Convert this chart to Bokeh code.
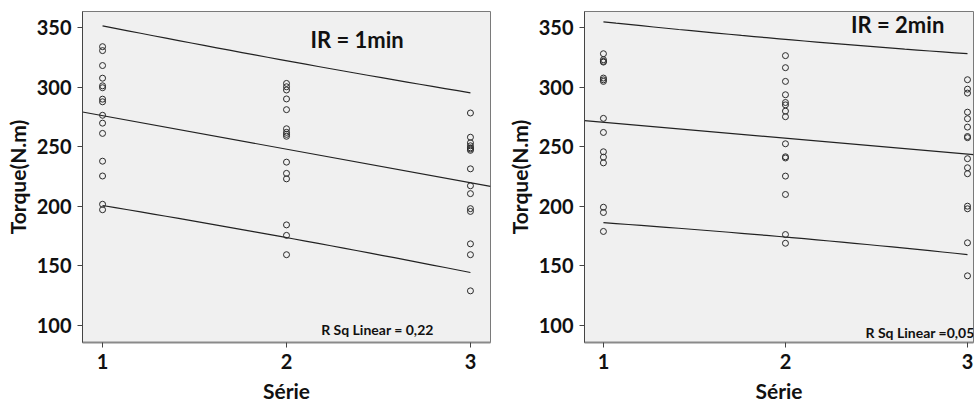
import numpy as np
from bokeh.plotting import figure
from bokeh.layouts import row
from bokeh.models import Label, FixedTicker
from bokeh.embed import file_html
from bokeh.resources import INLINE

# ---- data ----
series_ticks = [1, 2, 3]
torque_ticks = [100, 150, 200, 250, 300, 350]

ir1_s1 = [333.8, 330.5, 318.0, 307.4, 301.0, 299.4, 289.8, 287.6, 276.3, 269.7, 261.1, 237.8, 225.4, 201.7, 197.1]
ir1_s2 = [303.0, 300.2, 297.5, 290.0, 281.0, 265.0, 262.0, 260.3, 258.7, 237.0, 227.6, 223.0, 184.4, 175.6, 159.4]
ir1_s3 = [278.2, 257.9, 253.2, 250.7, 249.0, 248.0, 246.9, 231.4, 217.2, 210.6, 198.0, 195.7, 168.5, 159.4, 129.1]

ir2_s1 = [327.9, 322.9, 321.5, 320.9, 307.5, 306.0, 304.7, 273.7, 261.9, 245.7, 241.2, 236.4, 199.2, 194.8, 178.9]
ir2_s2 = [326.3, 316.2, 304.7, 293.5, 287.0, 285.0, 279.8, 275.1, 252.4, 241.5, 240.5, 225.3, 209.9, 176.3, 169.0]
ir2_s3 = [306.1, 298.2, 294.9, 278.9, 273.4, 266.4, 258.5, 257.5, 239.9, 232.3, 227.3, 200.1, 197.9, 169.4, 141.7]

titles = ["IR = 1min", "IR = 2min"]
rsq_labels = ["R Sq Linear = 0,22", "R Sq Linear =0,05"]
T_95 = 1.681  # t quantile (90% prediction interval), df = 43

FONT = "Lato"


def fit(xs, ys):
    xs = np.asarray(xs, float)
    ys = np.asarray(ys, float)
    n = len(xs)
    xb = xs.mean()
    sxx = ((xs - xb) ** 2).sum()
    b = ((xs - xb) * (ys - ys.mean())).sum() / sxx
    a = ys.mean() - b * xb
    res = ys - (a + b * xs)
    s = np.sqrt((res ** 2).sum() / (n - 2))
    return a, b, s, n, xb, sxx


def panel(groups, title, rsq, width, bl, br, bb, xr, title_xy, rsq_xy, rsq_align):
    p = figure(width=width, height=412, x_range=xr, y_range=(85.8, 363.3),
               output_backend="svg", toolbar_location=None,
               min_border_left=bl, min_border_right=br, min_border_top=11,
               min_border_bottom=bb)
    p.background_fill_color = "#f0f0f0"
    p.border_fill_color = "white"
    p.outline_line_color = "#7a7a7a"
    p.outline_line_width = 1
    p.grid.visible = False

    xs_all, ys_all = [], []
    for i, g in enumerate(groups):
        xs = [series_ticks[i]] * len(g)
        xs_all += xs
        ys_all += g
        p.scatter(xs, g, marker="circle", size=6, fill_color=None,
                  line_color="#2a2a2a", line_width=1)

    a, b, s, n, xb, sxx = fit(xs_all, ys_all)
    xe = np.array([xr[0], xr[1]])
    p.line(xe, a + b * xe, line_color="#222222", line_width=1.2)
    xg = np.linspace(series_ticks[0], series_ticks[-1], 30)
    half = T_95 * s * np.sqrt(1 + 1 / n + (xg - xb) ** 2 / sxx)
    p.line(xg, a + b * xg + half, line_color="#222222", line_width=1.2)
    p.line(xg, a + b * xg - half, line_color="#222222", line_width=1.2)

    p.add_layout(Label(x=title_xy[0], y=title_xy[1], text=title, text_font=FONT,
                       text_font_style="bold", text_font_size="22px",
                       text_baseline="middle", text_color="#111111"))
    p.add_layout(Label(x=rsq_xy[0], y=rsq_xy[1], text=rsq, text_font=FONT,
                       text_font_style="bold", text_font_size="14px",
                       text_baseline="middle", text_align=rsq_align,
                       text_color="#111111"))

    p.xaxis.ticker = FixedTicker(ticks=series_ticks)
    p.yaxis.ticker = FixedTicker(ticks=torque_ticks)
    p.xaxis.axis_label = "Série"
    p.yaxis.axis_label = "Torque(N.m)"
    for ax in (p.xaxis, p.yaxis):
        ax.axis_label_text_font = FONT
        ax.axis_label_text_font_style = "bold"
        ax.axis_label_text_font_size = "21px"
        ax.axis_label_text_color = "#111111"
        ax.major_label_text_font = FONT
        ax.major_label_text_font_style = "bold"
        ax.major_label_text_font_size = "20px"
        ax.major_label_text_color = "#111111"
        ax.minor_tick_line_color = None
        ax.major_tick_in = 0
        ax.major_tick_out = 5
        ax.major_tick_line_color = "#444444"
    p.xaxis.axis_line_color = "#8a8a8a"
    p.xaxis.axis_line_width = 2
    p.yaxis.axis_line_color = "#444444"
    p.yaxis.axis_label_standoff = 4
    p.yaxis.major_label_standoff = 6
    p.xaxis.major_label_standoff = 6
    p.xaxis.axis_label_standoff = 6
    return p


left = panel([ir1_s1, ir1_s2, ir1_s3], titles[0], rsq_labels[0], 500, 82, 10, 65,
             (0.891, 3.109), (2.13, 340.0), (2.80, 97.0), "right")
right = panel([ir2_s1, ir2_s2, ir2_s3], titles[1], rsq_labels[1], 474, 84, 1, 70,
              (0.896, 3.033), (2.36, 352.0), (2.44, 94.0), "left")

layout = row(left, right)
open("out.html", "w").write(file_html(layout, INLINE))
